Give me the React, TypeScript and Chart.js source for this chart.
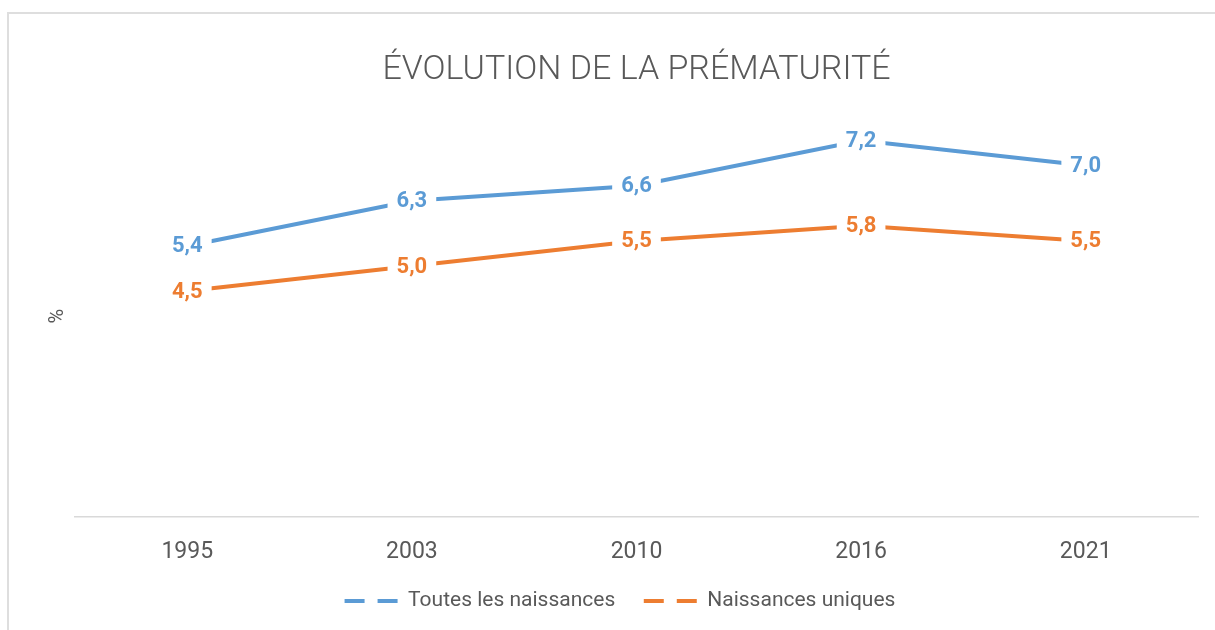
import React, { useEffect, useRef } from "react";
import { Chart, registerables } from "chart.js";

Chart.register(...registerables);

const categories = ["1995", "2003", "2010", "2016", "2021"];
const seriesNames = ["Toutes les naissances", "Naissances uniques"];
const toutesValues = [5.4, 6.3, 6.6, 7.5, 7.0];
const toutesLabels = ["5,4", "6,3", "6,6", "7,2", "7,0"];
const uniquesValues = [4.5, 5.0, 5.5, 5.8, 5.5];
const uniquesLabels = ["4,5", "5,0", "5,5", "5,8", "5,5"];
const titleText = "ÉVOLUTION DE LA PRÉMATURITÉ";
const yTitle = "%";

const BLUE = "#5B9BD5";
const ORANGE = "#ED7D31";
const TEXT = "#595959";
const FONT = "Roboto, 'Open Sans', sans-serif";

const labelTexts = [toutesLabels, uniquesLabels];

const dataLabelPlugin = {
  id: "dataLabelsCustom",
  afterDatasetsDraw(chart: any) {
    const ctx = chart.ctx;
    ctx.save();
    ctx.font = `bold 22px ${FONT}`;
    ctx.textAlign = "center";
    ctx.textBaseline = "middle";
    chart.data.datasets.forEach((ds: any, di: number) => {
      const meta = chart.getDatasetMeta(di);
      meta.data.forEach((pt: any, i: number) => {
        const txt = labelTexts[di][i];
        const w = ctx.measureText(txt).width + 18;
        const h = 26;
        ctx.fillStyle = "#ffffff";
        ctx.fillRect(pt.x - w / 2, pt.y - h / 2, w, h);
        ctx.fillStyle = ds.borderColor;
        ctx.fillText(txt, pt.x, pt.y + 1);
      });
    });
    ctx.restore();
  },
};

export default function App() {
  const canvasRef = useRef<HTMLCanvasElement | null>(null);

  useEffect(() => {
    if (!canvasRef.current) return;
    const chart = new Chart(canvasRef.current, {
      type: "line",
      data: {
        labels: categories,
        datasets: [
          {
            label: seriesNames[0],
            data: toutesValues,
            borderColor: BLUE,
            backgroundColor: BLUE,
            borderWidth: 4,
            pointRadius: 0,
            tension: 0,
          },
          {
            label: seriesNames[1],
            data: uniquesValues,
            borderColor: ORANGE,
            backgroundColor: ORANGE,
            borderWidth: 4,
            pointRadius: 0,
            tension: 0,
          },
        ],
      },
      options: {
        animation: false,
        responsive: false,
        maintainAspectRatio: false,
        layout: { padding: { left: 42, right: 17, top: 0, bottom: 8.5 } },
        plugins: {
          tooltip: { enabled: false },
          title: {
            display: true,
            text: titleText,
            fullSize: false,
            color: TEXT,
            font: { family: FONT, size: 34, weight: "300" as any, lineHeight: 1.2 },
            padding: { top: 50, bottom: 24.6 },
          },
          legend: {
            display: true,
            position: "bottom",
            labels: {
              color: TEXT,
              font: { family: FONT, size: 21 },
              usePointStyle: true,
              pointStyle: "line",
              pointStyleWidth: 53,
              padding: 28.5,
              generateLabels(chart: any) {
                const items = Chart.defaults.plugins.legend.labels.generateLabels(chart);
                return items.map((it: any) => ({
                  ...it,
                  pointStyle: "line",
                  lineDash: [20, 13],
                  lineWidth: 4,
                  lineCap: "butt",
                }));
              },
            },
          },
        },
        scales: {
          x: {
            type: "category",
            offset: true,
            grid: { display: false, drawTicks: false },
            border: { display: true, color: "#d9d9d9", width: 1.5 },
            ticks: { color: TEXT, font: { family: FONT, size: 23 }, padding: 21 },
            afterFit(scale: any) {
              scale.height = 45;
            },
          },
          y: {
            min: 0,
            max: 8,
            grid: { display: false, drawTicks: false },
            border: { display: false },
            ticks: { display: false },
            title: {
              display: true,
              text: yTitle,
              color: TEXT,
              font: { family: FONT, size: 20, lineHeight: 1.2 },
              padding: { top: 4, bottom: 4 },
            },
            afterFit(scale: any) {
              scale.width = 33;
            },
          },
        },
      },
      plugins: [dataLabelPlugin],
    });
    return () => chart.destroy();
  }, []);

  return (
    <div
      style={{
        position: "fixed",
        left: 0,
        top: 0,
        width: 1215,
        height: 630,
        overflow: "hidden",
        background: "#ffffff",
      }}
    >
      <div
        style={{
          position: "absolute",
          left: 7,
          top: 12,
          width: 1300,
          height: 700,
          border: "2px solid #dedede",
        }}
      />
      <canvas
        ref={canvasRef}
        width={1215}
        height={630}
        style={{ position: "absolute", left: 0, top: 0, width: 1215, height: 630 }}
      />
    </div>
  );
}
